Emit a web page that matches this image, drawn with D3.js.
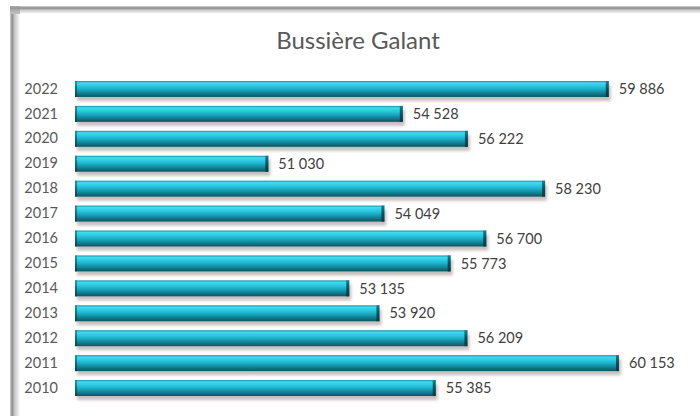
<!DOCTYPE html>
<html>
<head>
<meta charset="utf-8">
<script src="https://cdn.jsdelivr.net/npm/d3@7"></script>
<style>
  html, body { margin: 0; padding: 0; background: #fff; }
  svg { display: block; font-family: Lato, "Open Sans", sans-serif; }
</style>
</head>
<body>
<div id="chart"></div>
<script>
// Data
const title = 'Bussière Galant';
const years = ['2022', '2021', '2020', '2019', '2018', '2017', '2016', '2015', '2014', '2013', '2012', '2011', '2010'];
const values = [59886, 54528, 56222, 51030, 58230, 54049, 56700, 55773, 53135, 53920, 56209, 60153, 55385];
const axisMin = 46000;
const axisMax = 62000;

const width = 700;
const height = 416;

const svg = d3.select('#chart').append('svg')
  .attr('width', width)
  .attr('height', height);

const defs = svg.append('defs');

// cylinder-like gradient for the bars
const barGrad = defs.append('linearGradient')
  .attr('id', 'barGrad')
  .attr('x1', 0).attr('y1', 0).attr('x2', 0).attr('y2', 1);
[[0, '#168ea3'], [0.12, '#3fdcf0'], [0.3, '#2ccbe3'], [0.5, '#1db0c8'], [0.72, '#13889c'], [1, '#0a5561']]
  .forEach(([o, c]) => barGrad.append('stop').attr('offset', o).attr('stop-color', c));

const capGrad = defs.append('linearGradient')
  .attr('id', 'capGrad')
  .attr('x1', 0).attr('y1', 0).attr('x2', 0).attr('y2', 1);
[[0, '#1a7f90'], [0.5, '#0b4f5b'], [1, '#083b44']]
  .forEach(([o, c]) => capGrad.append('stop').attr('offset', o).attr('stop-color', c));

const blur = defs.append('filter').attr('id', 'blur')
  .attr('x', '-5%').attr('y', '-50%').attr('width', '110%').attr('height', '200%');
blur.append('feGaussianBlur').attr('stdDeviation', 1.6);

// frame edges (left and top inner shadow)
const leftGrad = defs.append('linearGradient').attr('id', 'leftGrad')
  .attr('x1', 0).attr('y1', 0).attr('x2', 1).attr('y2', 0);
[[0, '#d8d8d8'], [0.2, '#8a8a8a'], [0.45, '#c4c4c4'], [1, '#ffffff']]
  .forEach(([o, c]) => leftGrad.append('stop').attr('offset', o).attr('stop-color', c));
const topGrad = defs.append('linearGradient').attr('id', 'topGrad')
  .attr('x1', 0).attr('y1', 0).attr('x2', 0).attr('y2', 1);
[[0, '#d8d8d8'], [0.25, '#8a8a8a'], [0.5, '#c8c8c8'], [1, '#ffffff']]
  .forEach(([o, c]) => topGrad.append('stop').attr('offset', o).attr('stop-color', c));

svg.append('rect').attr('x', 10).attr('y', 10).attr('width', 10).attr('height', height - 10)
  .attr('fill', 'url(#leftGrad)');
svg.append('rect').attr('x', 10).attr('y', 6).attr('width', width - 10).attr('height', 8)
  .attr('fill', 'url(#topGrad)');
svg.append('rect').attr('x', 10).attr('y', 6).attr('width', 10).attr('height', 8)
  .attr('fill', '#9a9a9a').attr('opacity', 0.6);

// Scales
const x = d3.scaleLinear()
  .domain([axisMin, axisMax])
  .range([75, 690]);

const y = d3.scaleBand()
  .domain(years)
  .range([76.5, 400.5])
  .paddingInner(0.36)
  .paddingOuter(0.18);

const fmt = d3.formatLocale({ decimal: ',', thousands: '\u00a0', grouping: [3], currency: ['', ' €'] }).format(',d');

// Title
svg.append('text')
  .attr('x', 358)
  .attr('y', 49)
  .attr('text-anchor', 'middle')
  .attr('fill', '#595959')
  .attr('font-size', 24)
  .text(title);

// Year axis
const yAxis = d3.axisLeft(y).tickSize(0).tickPadding(17);
const yAxisG = svg.append('g')
  .attr('transform', `translate(${x.range()[0]},0)`)
  .call(yAxis);
yAxisG.select('.domain').remove();
yAxisG.selectAll('text')
  .attr('fill', '#595959')
  .attr('font-size', 14.5)
  .attr('font-family', 'Lato, "Open Sans", sans-serif');

const rows = svg.append('g').selectAll('g')
  .data(years)
  .join('g');

// shadow
rows.append('rect')
  .attr('x', x(axisMin) + 2)
  .attr('y', d => y(d) + 4)
  .attr('width', (d, i) => x(values[i]) - x(axisMin))
  .attr('height', y.bandwidth())
  .attr('fill', '#9a8a8a')
  .attr('opacity', 0.55)
  .attr('filter', 'url(#blur)');

// bar body
rows.append('rect')
  .attr('x', x(axisMin))
  .attr('y', d => y(d))
  .attr('width', (d, i) => x(values[i]) - x(axisMin))
  .attr('height', y.bandwidth())
  .attr('fill', 'url(#barGrad)');

// left and right end faces
rows.append('rect')
  .attr('x', x(axisMin))
  .attr('y', d => y(d))
  .attr('width', 2)
  .attr('height', y.bandwidth())
  .attr('fill', 'url(#capGrad)')
  .attr('opacity', 0.7);
rows.append('rect')
  .attr('x', (d, i) => x(values[i]) - 3)
  .attr('y', d => y(d))
  .attr('width', 3)
  .attr('height', y.bandwidth())
  .attr('fill', 'url(#capGrad)');

// value labels
rows.append('text')
  .attr('x', (d, i) => x(values[i]) + 10)
  .attr('y', d => y(d) + y.bandwidth() / 2)
  .attr('dy', '0.36em')
  .attr('fill', '#404040')
  .attr('font-size', 14.5)
  .text((d, i) => fmt(values[i]));
</script>
</body>
</html>
